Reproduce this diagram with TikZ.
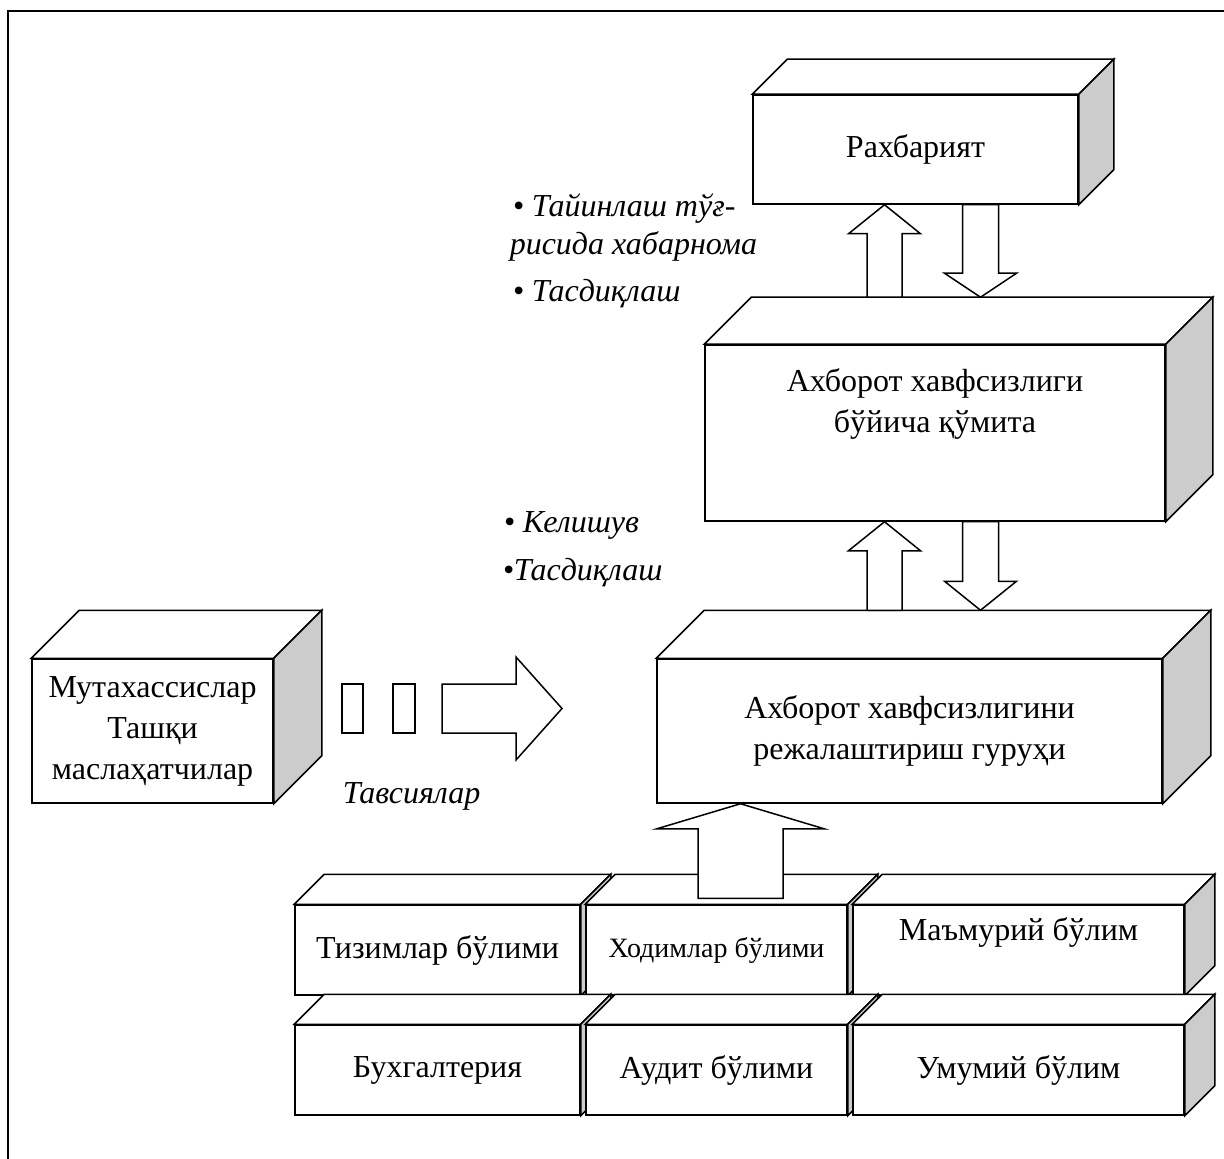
\documentclass[tikz,border=0pt]{standalone}
\usepackage{fontspec}
\setmainfont{Liberation Serif}
\usetikzlibrary{calc}

\definecolor{sidegray}{RGB}{204,204,204}

\tikzset{
    face/.style={draw, fill=white, inner sep=0pt, align=center,
        font=\fontsize{16}{20.5}\selectfont},
    txt/.style={inner sep=0pt, align=center,
        font=\fontsize{16}{20.5}\selectfont},
    note/.style={inner sep=0pt, anchor=base west,
        font=\fontsize{16}{20.5}\selectfont\itshape},
    blkarrow/.style n args={3}{fill=white, to path={
        let \p1=(\tikztostart), \p2=(\tikztotarget),
            \p3=($(\p2)!#3!(\p1)$) in
        ($(\p1)!#1!90:(\p2)$) -- ($(\p3)!#1!-90:(\p1)$)
        -- ($(\p3)!#2!-90:(\p1)$) -- (\p2)
        -- ($(\p3)!#2!90:(\p1)$) -- ($(\p3)!#1!90:(\p1)$)
        -- ($(\p1)!#1!-90:(\p2)$) -- cycle
    }}
}

\newcommand{\boxfaces}[2]{%
    \filldraw[fill=white] (#1.north west) -- ++(#2,-#2)
        -- ($(#1.north east)+(#2,-#2)$) -- (#1.north east) -- cycle;
    \filldraw[fill=sidegray] (#1.north east) -- ++(#2,-#2)
        -- ($(#1.south east)+(#2,-#2)$) -- (#1.south east) -- cycle;
    \coordinate (#1-top) at ($(#1.north)+(#2,-#2)$);
}

\begin{document}
\begin{tikzpicture}[
    x=0.5pt, y=-0.5pt,
    line width=0.75pt
]
    \useasboundingbox (0,0) rectangle (1224,1159);
    \draw[line width=1pt] (1224,11) -- (8,11) -- (8,1159);

    \node[face, minimum width=162.5pt, minimum height=54.5pt] (ldr) at (915.5,149.5) {Рахбарият};
    \boxfaces{ldr}{35}

    \node[face, minimum width=230pt, minimum height=88pt] (com) at (935,433) {};
    \boxfaces{com}{47}
    \node[txt] (comtxt) at ([yshift=14.5pt]com.center) {Ахборот хавфсизлиги\\бўйича қўмита};

    \node[face, minimum width=252.5pt, minimum height=72pt] (grp) at (909.5,731)
        {Ахборот хавфсизлигини\\режалаштириш гуруҳи};
    \boxfaces{grp}{48}

    \node[face, minimum width=120.5pt, minimum height=72pt] (mut) at (152.5,731)
        {Мутахассислар\\Ташқи\\маслаҳатчилар};
    \boxfaces{mut}{48}

    \node[face, minimum width=142.5pt, minimum height=45pt] (tiz) at (437.5,950) {Тизимлар бўлими};
    \boxfaces{tiz}{30}
    \node[face, minimum width=130.5pt, minimum height=45pt,
        font=\fontsize{14}{17}\selectfont] (hod) at (716.5,950) {Ходимлар бўлими};
    \boxfaces{hod}{30}
    \node[face, minimum width=165.5pt, minimum height=45pt] (mam) at (1018.5,950) {};
    \boxfaces{mam}{30}
    \node[txt] (mamtxt) at ([yshift=9pt]mam.center) {Маъмурий бўлим};

    \draw[blkarrow={21.25pt}{41.75pt}{12.5pt}] ($(740.5,0 |- hod.north)+(0,-6)$) to (740.5,0 |- grp.south);

    \node[face, minimum width=142.5pt, minimum height=45pt] (bux) at (437.5,1070) {Бухгалтерия};
    \boxfaces{bux}{30}
    \node[face, minimum width=130.5pt, minimum height=45pt] (aud) at (716.5,1070) {Аудит бўлими};
    \boxfaces{aud}{30}
    \node[face, minimum width=165.5pt, minimum height=45pt] (umu) at (1018.5,1070) {Умумий бўлим};
    \boxfaces{umu}{30}

    \draw[blkarrow={8.75pt}{18pt}{14.5pt}] (884.5,0 |- com-top) to (884.5,0 |- ldr.south);
    \draw[blkarrow={9pt}{18pt}{12pt}] (980.5,0 |- ldr.south) to (980.5,0 |- com-top);
    \draw[blkarrow={8.75pt}{18pt}{14.5pt}] (884.5,0 |- grp-top) to (884.5,0 |- com.south);
    \draw[blkarrow={9pt}{18pt}{14.5pt}] (980.5,0 |- com.south) to (980.5,0 |- grp-top);

    \node[face, minimum width=10.5pt, minimum height=24.5pt] (sq1) at (352.5,708.5) {};
    \node[face, minimum width=11pt, minimum height=24.5pt] (sq2) at (404,708.5) {};
    \coordinate (recA) at (442,708.5);
    \coordinate (recB) at (562,708.5);
    \draw[blkarrow={12.25pt}{25.75pt}{23pt}] (recA) to (recB);

    \node[note] (tay) at (512,217) {• Тайинлаш тўғ-};
    \node[note] (ris) at (509,255) {рисида хабарнома};
    \node[note] (tas) at (512,302) {• Тасдиқлаш};
    \node[note] (kel) at (503,532) {• Келишув};
    \node[note] (tasb) at (502,580) {•Тасдиқлаш};
    \node[note] (tav) at (342,803) {Тавсиялар};
\end{tikzpicture}
\end{document}
